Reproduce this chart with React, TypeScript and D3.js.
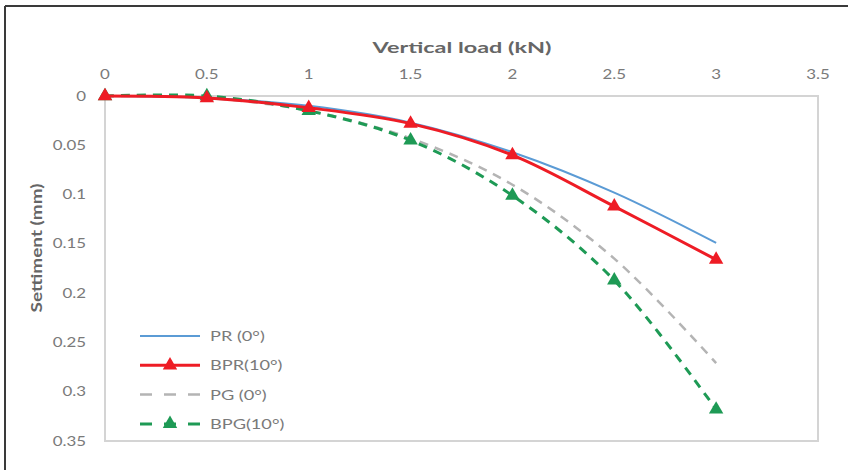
import React from "react";
import * as d3 from "d3";

const loads = [0, 0.5, 1, 1.5, 2, 2.5, 3];
const prValues = [0, 0.002, 0.01, 0.027, 0.057, 0.098, 0.149];
const bprValues = [0, 0.002, 0.012, 0.028, 0.06, 0.112, 0.166];
const pgValues = [0, 0.002, 0.015, 0.043, 0.09, 0.165, 0.271];
const bpgValues = [0, 0, 0.015, 0.045, 0.101, 0.187, 0.318];
const xTicks = [0, 0.5, 1, 1.5, 2, 2.5, 3, 3.5];
const yTicks = [0, 0.05, 0.1, 0.15, 0.2, 0.25, 0.3, 0.35];
const seriesNames = ["PR (0°)", "BPR(10°)", "PG (0°)", "BPG(10°)"];

const W = 848, H = 470;
const x = d3.scaleLinear().domain([0, 3.5]).range([105, 818]);
const y = d3.scaleLinear().domain([0, 0.35]).range([96, 441]);
const font = "Lato, 'Open Sans', sans-serif";
const SX = 1.3;

type S = { name: string; vals: number[]; color: string; width: number; dash?: string; marker: boolean };
const series: S[] = [
  { name: seriesNames[0], vals: prValues, color: "#5b9bd5", width: 2, marker: false },
  { name: seriesNames[2], vals: pgValues, color: "#b4b4b4", width: 2.5, dash: "9,7", marker: false },
  { name: seriesNames[3], vals: bpgValues, color: "#1e9a55", width: 3, dash: "9,7", marker: true },
  { name: seriesNames[1], vals: bprValues, color: "#ee1c25", width: 3, marker: true },
];
const legendOrder = [0, 3, 1, 2];

const line = d3.line<[number, number]>().x(d => x(d[0])).y(d => y(d[1])).curve(d3.curveCatmullRom.alpha(0.5));
const tri = d3.symbol().type(d3.symbolTriangle).size(90);

function T(props: { x: number; y: number; anchor?: string; size: number; fill: string; children: string }) {
  return (
    <g transform={`translate(${props.x},${props.y}) scale(${SX},1)`}>
      <text x={0} y={0} textAnchor={props.anchor || "start"} fontSize={props.size} fill={props.fill}>{props.children}</text>
    </g>
  );
}

export default function App() {
  return (
    <svg width={W} height={H} style={{ position: "absolute", left: 0, top: 0, background: "#fff" }} fontFamily={font}>
      <rect x={0} y={0} width={W} height={H} fill="#fff" />
      <line x1={5} y1={6} x2={W} y2={6} stroke="#3a3a3a" strokeWidth={2} />
      <line x1={5} y1={6} x2={5} y2={H} stroke="#3a3a3a" strokeWidth={2} />
      <rect x={x(0)} y={y(0)} width={x(3.5) - x(0)} height={y(0.35) - y(0)} fill="none" stroke="#d4d4d4" strokeWidth={2} />
      <text x={462} y={53} textAnchor="middle" fontSize={16} fontWeight="bold" fill="#666" textLength={179} lengthAdjust="spacingAndGlyphs">Vertical load (kN)</text>
      {xTicks.map(t => (
        <T key={t} x={x(t)} y={79} anchor="middle" size={13} fill="#7a7a7a">{String(t)}</T>
      ))}
      {yTicks.map(t => (
        <T key={t} x={86} y={y(t) + 4.5} anchor="end" size={13} fill="#7a7a7a">{String(t)}</T>
      ))}
      <text transform={`translate(42,${248}) rotate(-90)`} textAnchor="middle" fontSize={16} fontWeight="bold" fill="#666" textLength={129} lengthAdjust="spacingAndGlyphs">Settiment (mm)</text>
      {series.map(s => (
        <g key={s.name}>
          <path d={line(loads.map((l, i) => [l, s.vals[i]] as [number, number])) || ""} fill="none" stroke={s.color} strokeWidth={s.width} strokeDasharray={s.dash} />
          {s.marker && loads.map((l, i) => (
            <path key={i} d={tri() || ""} transform={`translate(${x(l)},${y(s.vals[i])})`} fill={s.color} />
          ))}
        </g>
      ))}
      {legendOrder.map((si, k) => {
        const s = series[si];
        const ly = 336 + k * 29.3;
        return (
          <g key={s.name}>
            <line x1={140} x2={200} y1={ly} y2={ly} stroke={s.color} strokeWidth={s.width} strokeDasharray={s.dash ? "12,12" : undefined} />
            {s.marker && <path d={tri() || ""} transform={`translate(170,${ly})`} fill={s.color} />}
            <T x={210} y={ly + 5} size={14} fill="#7a7a7a">{s.name}</T>
          </g>
        );
      })}
    </svg>
  );
}
